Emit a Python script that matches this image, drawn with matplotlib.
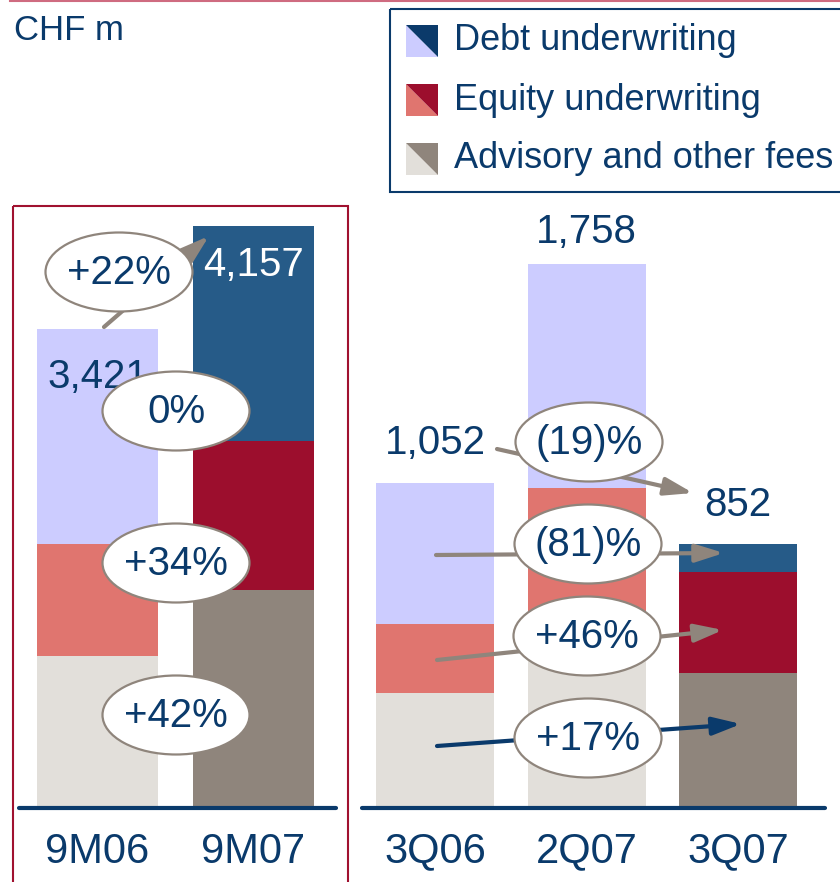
import matplotlib
matplotlib.use("Agg")
import matplotlib.pyplot as plt
from matplotlib.patches import Ellipse, Rectangle, Polygon, FancyArrowPatch
from matplotlib.lines import Line2D

plt.rcParams['font.family'] = ['Liberation Sans', 'DejaVu Sans']

# data (CHF m)
periods_9m = ['9M06', '9M07']
advisory_9m = [1088, 1560]
equity_9m = [799, 1061]
debt_9m = [1534, 1536]

periods_q = ['3Q06', '2Q07', '3Q07']
advisory_q = [371, 589, 436]
equity_q = [224, 446, 328]
debt_q = [457, 723, 88]

changes_9m = ['+22%', '0%', '+34%', '+42%']
changes_q = ['(19)%', '(81)%', '+46%', '+17%']

series = ['Debt underwriting', 'Equity underwriting', 'Advisory and other fees']

NAVY = '#0A3A6B'
GREY = '#8F857C'
FRAME = '#A0112F'
light = {'debt': '#CCCCFF', 'equity': '#E0756F', 'adv': '#E2DFDA'}
dark = {'debt': '#265B88', 'equity': '#9C0E2D', 'adv': '#8F857C'}
legend_dark = {'debt': '#0B3A6A', 'equity': '#9C0E2D', 'adv': '#8F857C'}

W, H = 840, 882
fig = plt.figure(figsize=(W / 100, H / 100), dpi=100)


def px_axes(x0, x1, ytop, ybase):
    return fig.add_axes([x0 / W, 1 - ybase / H, (x1 - x0) / W, (ybase - ytop) / H])


def stacked(ax, cats, adv, eq, debt, shades, width):
    xs = range(len(cats))
    for i in xs:
        pal = shades[i]
        ax.bar(i, adv[i], width, color=pal['adv'])
        ax.bar(i, eq[i], width, bottom=adv[i], color=pal['equity'])
        ax.bar(i, debt[i], width, bottom=adv[i] + eq[i], color=pal['debt'])
    ax.set_xticks(list(xs))
    ax.set_xticklabels(cats, fontsize=30, color=NAVY)
    ax.tick_params(axis='x', length=0, pad=17)
    ax.set_yticks([])
    for s in ['top', 'left', 'right']:
        ax.spines[s].set_visible(False)
    ax.spines['bottom'].set_color(NAVY)
    ax.spines['bottom'].set_linewidth(3)
    ax.spines['bottom'].set_capstyle('round')
    ax.patch.set_alpha(0)


# left panel: nine months
axl = px_axes(19, 336, 205, 808)
stacked(axl, periods_9m, advisory_9m, equity_9m, debt_9m, [light, dark], 0.776)
axl.set_xlim(-0.503, 1.529)
axl.set_ylim(0, 4307)

# right panel: quarters
axr = px_axes(362, 825, 205, 808)
stacked(axr, periods_q, advisory_q, equity_q, debt_q, [light, light, dark], 0.779)
axr.set_xlim(-0.482, 2.574)
axr.set_ylim(0, 1949)

# totals
tot_9m = [a + e + d for a, e, d in zip(advisory_9m, equity_9m, debt_9m)]
tot_q = [a + e + d for a, e, d in zip(advisory_q, equity_q, debt_q)]
axl.annotate(f"{tot_9m[0]:,}", (0, tot_9m[0]), xytext=(0, -48), textcoords='offset pixels',
             ha='center', va='center', fontsize=29, color=NAVY)
axl.annotate(f"{tot_9m[1]:,}", (1, tot_9m[1]), xytext=(0, -39), textcoords='offset pixels',
             ha='center', va='center', fontsize=29, color='white')
q_offsets = [40, 32, 39]
for i, t in enumerate(tot_q):
    axr.annotate(f"{t:,}", (i, t), xytext=(0, q_offsets[i]), textcoords='offset pixels',
                 ha='center', va='center', fontsize=29, color=NAVY)

# overlay in pixel coordinates for callouts, legend and frame
ov = fig.add_axes([0, 0, 1, 1], zorder=5)
ov.set_xlim(0, W)
ov.set_ylim(H, 0)
ov.axis('off')

# arrows
arrows = [((104, 327), (209, 236), GREY),
          ((497, 449), (693, 493), GREY),
          ((436, 555), (724, 553), GREY),
          ((437, 660), (723, 630), GREY),
          ((437, 746), (741, 724), NAVY)]
for p0, p1, c in arrows:
    ov.add_patch(FancyArrowPatch(p0, p1, arrowstyle='-|>,head_length=0.95,head_width=0.3',
                                 mutation_scale=18, color=c, lw=3, zorder=2,
                                 shrinkA=0, shrinkB=0))

# callout ellipses
bubbles = list(zip(changes_9m, [(119, 272), (176, 411), (176, 563), (176, 715)])) + \
          list(zip(changes_q, [(589, 442), (588, 544), (587, 636), (588, 738)]))
for txt, (cx, cy) in bubbles:
    ov.add_patch(Ellipse((cx, cy), 147, 79, fc='white', ec=GREY, lw=1.6, zorder=3))
    ov.text(cx, cy + 1, txt, ha='center', va='center', fontsize=29, color=NAVY, zorder=4)

# frame around nine-month panel and top rule
ov.add_patch(Rectangle((13, 206), 335, 690, fill=False, ec=FRAME, lw=1.5, clip_on=False))
ov.add_line(Line2D([10, 840], [1, 1], color='#CF6B80', lw=1.5, clip_on=False))

ov.text(14, 31, 'CHF m', ha='left', va='center', fontsize=25, color=NAVY)

# legend
ov.add_patch(Rectangle((390, 9), 460, 183, fill=False, ec=NAVY, lw=1.5, clip_on=False))
keys = ['debt', 'equity', 'adv']
for k, (name, key) in enumerate(zip(series, keys)):
    yc = 41 + 59 * k
    x0, x1, y0, y1 = 406, 438, yc - 16, yc + 16
    ov.add_patch(Polygon([(x0, y0), (x1, y1), (x0, y1)], closed=True, fc=light[key], ec='none'))
    ov.add_patch(Polygon([(x0, y0), (x1, y0), (x1, y1)], closed=True, fc=legend_dark[key], ec='none'))
    ov.text(454, yc, name, ha='left', va='center', fontsize=26, color=NAVY)

fig.savefig('out.png', dpi=100)
